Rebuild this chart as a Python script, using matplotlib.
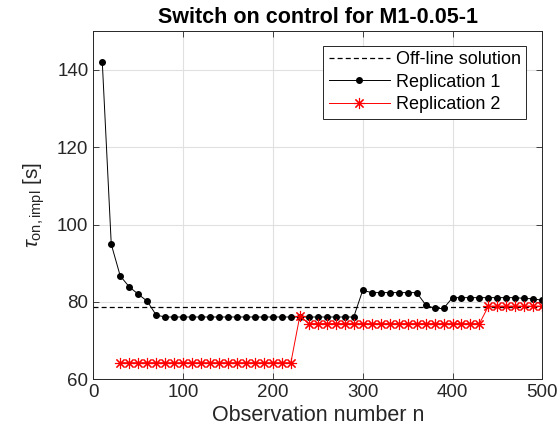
import numpy as np
import matplotlib
matplotlib.use('Agg')
import matplotlib.pyplot as plt

plt.rcParams['font.family'] = ['Liberation Sans', 'DejaVu Sans']
plt.rcParams['mathtext.fontset'] = 'custom'
plt.rcParams['mathtext.rm'] = 'Liberation Sans'
plt.rcParams['mathtext.it'] = 'Liberation Sans:italic'

# data
n1 = np.arange(10, 501, 10)
rep1 = [142.0, 94.9, 86.7, 83.9, 82.0, 80.2, 76.6,
        76.1, 76.1, 76.1, 76.1, 76.1, 76.1, 76.1, 76.1, 76.1, 76.1, 76.1, 76.1, 76.1, 76.1, 76.1,
        76.1, 76.1, 76.1, 76.1, 76.1, 76.1, 76.1,
        83.0, 82.4, 82.4, 82.4, 82.4, 82.4, 82.4,
        79.3, 78.3, 78.3,
        81.1, 81.1, 81.1, 81.1, 81.1, 81.1, 81.1, 81.1, 80.9, 80.8, 80.4]

n2 = np.arange(30, 501, 10)
rep2 = [64.3] * 20 + [76.4] + [74.4] * 20 + [78.9] * 7

offline_n = [0, 500]
offline_val = [78.7, 78.7]

fig = plt.figure(figsize=(5.58, 4.44), dpi=100)
ax = fig.add_axes([0.1672, 0.1457, 0.8047, 0.7845])

ax.plot(offline_n, offline_val, '--', color='k', linewidth=0.9, dashes=(4, 2.5),
        label='Off-line solution')
ax.plot(n1, rep1, '-', color='k', linewidth=0.7, marker='o', markersize=4,
        label='Replication 1')
ax.plot(n2, rep2, '-', color='r', linewidth=0.7, marker=(8, 2, 0), markersize=8,
        markeredgewidth=0.8, label='Replication 2')

ax.set_xlim(0, 500)
ax.set_ylim(60, 150)
ax.set_xticks([0, 100, 200, 300, 400, 500])
ax.set_yticks([60, 80, 100, 120, 140])
ax.grid(True, color='#e0e0e0', linewidth=0.8)
ax.set_axisbelow(True)
ax.tick_params(direction='in', top=True, right=True, labelsize=13.5,
               colors='#262626', length=4, width=0.6)
for s in ax.spines.values():
    s.set_color('#262626')
    s.set_linewidth(0.7)

ax.set_xlabel('Observation number n', fontsize=15.5, color='#262626', labelpad=3)
ax.set_ylabel(r'$\tau_{\mathrm{on,impl}}$ [s]', fontsize=15, color='#262626', labelpad=7)
ax.set_title('Switch on control for M1-0.05-1', fontsize=15.5, fontweight='bold', pad=6)

leg = ax.legend(loc='upper right', bbox_to_anchor=(0.9637, 0.957), fontsize=13,
                fancybox=False, edgecolor='#262626', framealpha=1,
                handlelength=3.4, handletextpad=0.3, labelspacing=0.3,
                borderpad=0.3, borderaxespad=0)
leg.get_frame().set_linewidth(0.7)

fig.savefig('out.png', dpi=100)
